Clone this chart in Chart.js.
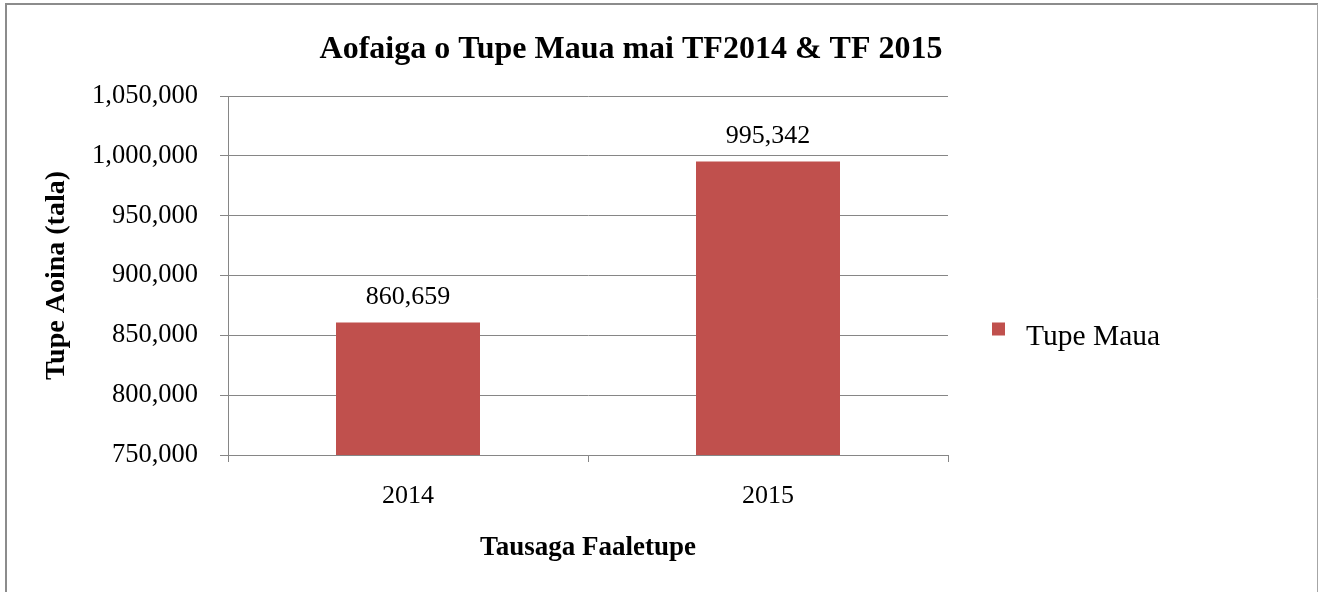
<!DOCTYPE html>
<html>
<head>
<meta charset="utf-8">
<title>Aofaiga o Tupe Maua mai TF2014 & TF 2015</title>
<script src="https://cdn.jsdelivr.net/npm/chart.js@4.4.1/dist/chart.umd.min.js"></script>
<style>
  html, body { margin: 0; padding: 0; background: #ffffff; }
  #wrap { position: relative; width: 1320px; height: 592px; }
</style>
</head>
<body>
<div id="wrap"><canvas id="chart" width="1320" height="592"></canvas></div>
<script>
// Chart data
const categories = ['2014', '2015'];
const seriesName = 'Tupe Maua';
const seriesValues = [860659, 995342];
const yTicks = [750000, 800000, 850000, 900000, 950000, 1000000, 1050000];

const chartTitle = 'Aofaiga o Tupe Maua mai TF2014 & TF 2015';
const xTitle = 'Tausaga Faaletupe';
const yTitle = 'Tupe Aoina (tala)';

const SERIF = '"Liberation Serif", "Times New Roman", serif';
const GRID = '#868686';
const BAR = '#C0504D';

const fmt = v => v.toLocaleString('en-US');

// Frame, heading, value labels and key drawn around the plot
const decorations = {
  id: 'decorations',
  beforeDraw(chart) {
    const ctx = chart.ctx;
    ctx.save();
    ctx.fillStyle = '#ffffff';
    ctx.fillRect(0, 0, chart.width, chart.height);
    ctx.restore();
  },
  afterDraw(chart) {
    const ctx = chart.ctx;
    const area = chart.chartArea;
    ctx.save();

    // outer frame
    ctx.strokeStyle = '#8c8c8c';
    ctx.lineWidth = 2;
    ctx.beginPath();
    ctx.moveTo(6, chart.height + 5);
    ctx.lineTo(6, 4);
    ctx.lineTo(chart.width - 2, 4);
    ctx.stroke();
    ctx.lineWidth = 1;
    ctx.strokeStyle = '#a6a6a6';
    ctx.beginPath();
    ctx.moveTo(chart.width - 2.5, 4);
    ctx.lineTo(chart.width - 2.5, chart.height + 5);
    ctx.stroke();

    // heading
    ctx.fillStyle = '#000000';
    ctx.font = 'bold 32px ' + SERIF;
    ctx.textAlign = 'center';
    ctx.textBaseline = 'middle';
    ctx.fillText(chartTitle, 631, 50);

    // value labels above each bar
    ctx.font = '26px ' + SERIF;
    const meta = chart.getDatasetMeta(0);
    meta.data.forEach((bar, i) => {
      const v = chart.data.datasets[0].data[i];
      ctx.fillText(fmt(v), bar.x, bar.y - 25);
    });

    // key
    const ds = chart.data.datasets[0];
    const keyX = area.right + 44;
    const keyY = (area.top + area.bottom) / 2 + 54;
    ctx.fillStyle = ds.backgroundColor;
    ctx.fillRect(keyX, keyY - 7, 13, 13);
    ctx.fillStyle = '#000000';
    ctx.textAlign = 'left';
    ctx.font = '29.5px ' + SERIF;
    ctx.fillText(ds.label, keyX + 34, keyY + 8);

    ctx.restore();
  }
};

new Chart(document.getElementById('chart'), {
  type: 'bar',
  data: {
    labels: categories,
    datasets: [{
      label: seriesName,
      data: seriesValues,
      backgroundColor: BAR,
      borderWidth: 0,
      categoryPercentage: 0.4,
      barPercentage: 1.0
    }]
  },
  options: {
    responsive: false,
    animation: false,
    devicePixelRatio: 1,
    layout: { padding: { left: 0, right: 372, top: 96, bottom: 0 } },
    plugins: {
      legend: { display: false },
      title: { display: false },
      tooltip: { enabled: false }
    },
    scales: {
      x: {
        type: 'category',
        grid: {
          offset: true,
          drawOnChartArea: false,
          drawTicks: true,
          tickLength: 7,
          color: GRID,
          lineWidth: 1
        },
        border: { display: true, color: GRID, width: 1 },
        ticks: {
          color: '#000000',
          padding: 19,
          font: { family: SERIF, size: 26 }
        },
        title: {
          display: true,
          text: xTitle,
          color: '#000000',
          font: { family: SERIF, size: 27, weight: 'bold' },
          padding: { top: 0, bottom: 28 }
        },
        afterFit(scale) { scale.height = 137; }
      },
      y: {
        min: yTicks[0],
        max: yTicks[yTicks.length - 1],
        afterBuildTicks(scale) { scale.ticks = yTicks.map(v => ({ value: v })); },
        grid: {
          color: GRID,
          lineWidth: 1,
          drawTicks: true,
          tickLength: 8
        },
        border: { display: true, color: GRID, width: 1 },
        ticks: {
          color: '#000000',
          padding: 22,
          font: { family: SERIF, size: 26.5 },
          callback: v => fmt(v)
        },
        title: {
          display: true,
          text: yTitle,
          color: '#000000',
          font: { family: SERIF, size: 28, weight: 'bold' },
          padding: { top: 40, bottom: 0 }
        },
        afterFit(scale) { scale.width = 228; }
      }
    }
  },
  plugins: [decorations]
});
</script>
</body>
</html>
